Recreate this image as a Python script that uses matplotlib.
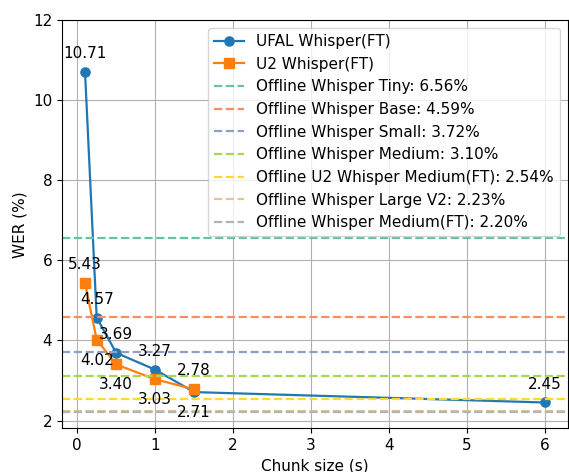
import matplotlib
matplotlib.use("Agg")
import matplotlib.pyplot as plt

# chunk sizes (s) and WER (%)
ufal_x = [0.1, 0.25, 0.5, 1.0, 1.5, 6.0]
ufal_wer = [10.71, 4.57, 3.69, 3.27, 2.71, 2.45]
u2_x = [0.1, 0.25, 0.5, 1.0, 1.5]
u2_wer = [5.43, 4.02, 3.40, 3.03, 2.78]

offline_names = ["Offline Whisper Tiny", "Offline Whisper Base", "Offline Whisper Small",
                 "Offline Whisper Medium", "Offline U2 Whisper Medium(FT)",
                 "Offline Whisper Large V2", "Offline Whisper Medium(FT)"]
offline_wer = [6.56, 4.59, 3.72, 3.10, 2.54, 2.23, 2.20]

# label offsets (points) per annotated value
ufal_off = [10, 10, 10, 10, -18, 10]
u2_off = [10, -18, -18, -18, 10]

plt.rcParams["font.size"] = 11
plt.rcParams["lines.linewidth"] = 1.6
plt.rcParams["lines.markersize"] = 6.6
s2 = plt.get_cmap("Set2").colors
colors = [s2[0], s2[1], s2[2], s2[4], s2[5], s2[6], s2[7]]

fig = plt.figure(figsize=(5.69, 4.72), dpi=100)
ax = fig.add_axes([0.109, 0.093, 0.889, 0.864])

ax.plot(ufal_x, ufal_wer, "-o", color="tab:blue", label="UFAL Whisper(FT)")
ax.plot(u2_x, u2_wer, "-s", color="tab:orange", label="U2 Whisper(FT)")
for name, w, c in zip(offline_names, offline_wer, colors):
    ax.axhline(w, ls="--", color=c, label=f"{name}: {w:.2f}%")

for x, y, o in zip(ufal_x, ufal_wer, ufal_off):
    ax.annotate(f"{y:.2f}", (x, y), xytext=(0, o), textcoords="offset points",
                ha="center")
for x, y, o in zip(u2_x, u2_wer, u2_off):
    ax.annotate(f"{y:.2f}", (x, y), xytext=(0, o), textcoords="offset points",
                ha="center")

ax.set_ylim(1.81, 12)
ax.set_xlabel("Chunk size (s)")
ax.set_ylabel("WER (%)")
ax.grid(True)
ax.legend(loc="upper right")
fig.savefig("out.png")
